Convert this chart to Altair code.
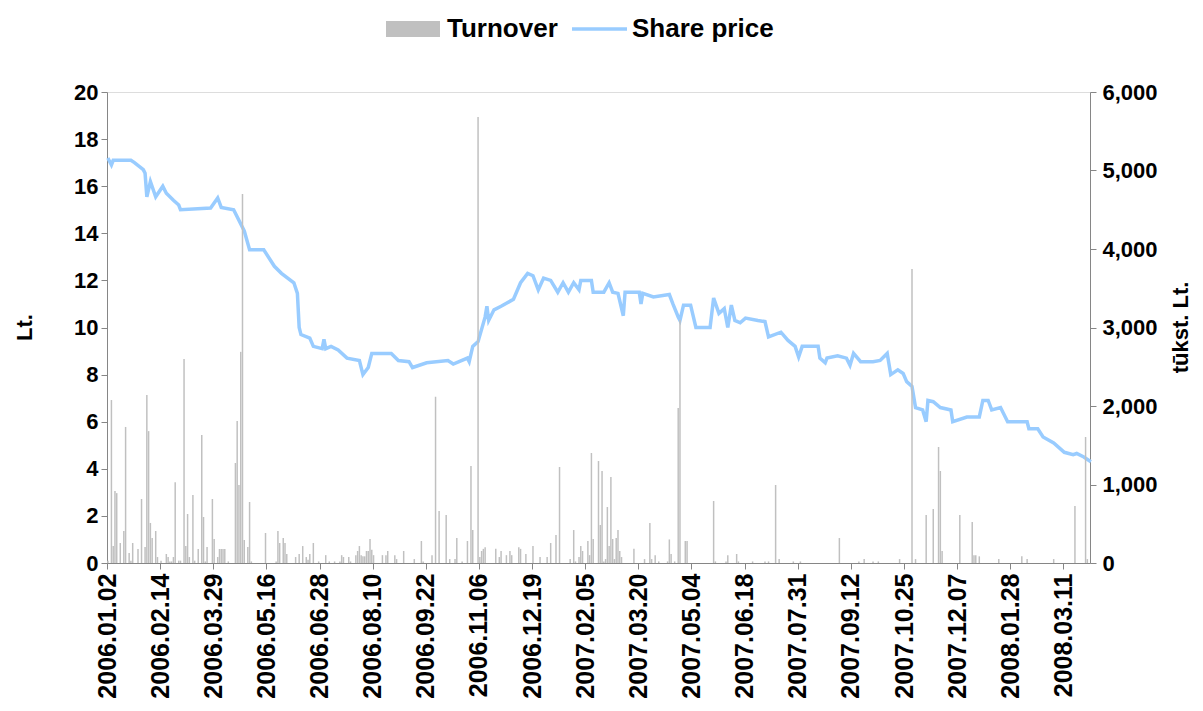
import altair as alt
import pandas as pd

# ---- data ----
# x = trading-day index (0 = 2006.01.02), one category per trading day
price_day = [0, 2, 3, 13, 15, 20, 21, 22, 24, 27, 31, 33, 37, 40, 41, 58, 62, 64, 71, 77,
             80, 88, 94, 98, 105, 107, 108, 109, 114, 116, 121, 122, 123, 126, 130, 135,
             142, 144, 147, 149, 160, 164, 170, 172, 180, 192, 195, 203, 204, 206, 209,
             213, 214, 215, 218, 222, 229, 233, 237, 240, 243, 246, 250, 254, 257, 260,
             263, 266, 267, 273, 274, 280, 283, 285, 288, 291, 292, 300, 301, 302, 308,
             317, 319, 322, 323, 325, 329, 332, 340, 342, 345, 348, 350, 352, 354, 357,
             360, 367, 371, 373, 380, 384, 388, 390, 392, 401, 402, 405, 406, 412, 417,
             419, 421, 425, 432, 436, 440, 442, 446, 449, 451, 454, 456, 460, 462, 463,
             466, 470, 476, 477, 485, 492, 494, 497, 499, 504, 508, 519, 520, 525, 528,
             534, 540, 545, 547, 551, 555]
price_lt = [17.2, 16.9, 17.1, 17.1, 17.0, 16.7, 16.55, 15.55, 16.2, 15.55, 16.0, 15.7, 15.4,
            15.2, 15.0, 15.07, 15.5, 15.1, 15.0, 14.1, 13.3, 13.3, 12.6, 12.3, 11.9, 11.45,
            10.0, 9.7, 9.55, 9.2, 9.1, 9.5, 9.1, 9.2, 9.05, 8.7, 8.6, 8.0, 8.3, 8.9, 8.9, 8.6,
            8.55, 8.3, 8.5, 8.6, 8.45, 8.7, 8.55, 9.2, 9.4, 10.45, 10.9, 10.3, 10.75, 10.9,
            11.2, 11.9, 12.3, 12.2, 11.6, 12.1, 12.0, 11.5, 11.9, 11.5, 11.9, 11.6, 12.0,
            12.0, 11.5, 11.5, 11.9, 11.5, 11.45, 10.5, 11.5, 11.5, 11.0, 11.45, 11.3, 11.4,
            11.0, 10.45, 10.3, 10.95, 10.95, 10.0, 10.0, 11.25, 10.6, 10.8, 10.0, 10.95,
            10.3, 10.2, 10.4, 10.3, 10.25, 9.6, 9.8, 9.45, 9.2, 8.75, 9.2, 9.2, 8.7, 8.5,
            8.7, 8.8, 8.7, 8.4, 8.9, 8.55, 8.55, 8.6, 8.9, 8.0, 8.2, 8.05, 7.7, 7.5, 6.6,
            6.5, 6.0, 6.9, 6.85, 6.6, 6.5, 6.0, 6.2, 6.2, 6.9, 6.9, 6.5, 6.6, 6.0, 6.0, 5.7,
            5.7, 5.35, 5.1, 4.7, 4.6, 4.65, 4.5, 4.3]

turnover_day = [0, 2, 3, 4, 5, 7, 9, 10, 12, 13, 14, 17, 19, 21, 22, 23, 24, 25, 27, 28,
                30, 33, 34, 35, 36, 37, 38, 40, 41, 43, 44, 45, 46, 48, 49, 51, 53, 54, 55,
                56, 59, 60, 62, 63, 64, 65, 66, 68, 72, 73, 74, 75, 76, 77, 79, 80, 81, 89,
                95, 96, 97, 99, 100, 101, 106, 108, 110, 112, 113, 114, 116, 119, 123, 125,
                128, 131, 132, 133, 136, 137, 140, 141, 142, 143, 144, 145, 146, 147, 148,
                149, 150, 155, 157, 158, 162, 163, 167, 173, 177, 178, 183, 185, 187, 191,
                193, 196, 197, 200, 203, 205, 206, 209, 210, 211, 212, 213, 219, 221, 222,
                225, 227, 228, 232, 233, 236, 240, 244, 248, 250, 253, 255, 261, 263, 264,
                266, 267, 268, 271, 272, 273, 274, 277, 278, 279, 280, 281, 282, 283, 284,
                285, 286, 287, 288, 289, 290, 297, 303, 306, 307, 309, 311, 316, 317, 318,
                320, 322, 323, 326, 327, 342, 343, 349, 350, 355, 356, 364, 371, 373, 377,
                379, 387, 391, 413, 424, 427, 432, 435, 447, 454, 456, 462, 466, 469, 470,
                471, 481, 488, 489, 490, 492, 503, 516, 519, 534, 546, 552, 553]
turnover_val = [30, 2076, 216, 917, 890, 255, 408, 1733, 127, 30, 255, 178, 815, 204, 2140,
                1680, 510, 318, 408, 76, 30, 115, 76, 20, 20, 76, 1030, 30, 30, 2600, 216,
                624, 76, 866, 30, 178, 1630, 586, 20, 204, 815, 306, 76, 178, 178, 178, 178,
                20, 1274, 1809, 994, 2690, 4700, 293, 204, 777, 20, 382, 20, 408, 255, 318,
                255, 115, 76, 115, 216, 76, 40, 115, 255, 20, 100, 20, 20, 20, 100, 76, 76,
                20, 100, 153, 216, 100, 85, 85, 153, 153, 306, 170, 100, 100, 100, 153, 100,
                50, 153, 50, 280, 20, 100, 2118, 662, 611, 50, 50, 318, 20, 280, 1236, 420,
                5682, 76, 153, 180, 200, 180, 76, 153, 100, 153, 100, 200, 180, 115, 216, 76,
                76, 255, 357, 1223, 50, 420, 20, 76, 216, 153, 280, 100, 1401, 306, 1299,
                484, 1172, 20, 50, 713, 216, 1096, 306, 50, 318, 420, 153, 76, 180, 50, 510,
                50, 100, 20, 20, 300, 115, 20, 1975, 3096, 280, 280, 790, 20, 20, 100, 115,
                20, 20, 20, 20, 994, 50, 20, 20, 318, 20, 50, 20, 20, 50, 3745, 50, 611, 688,
                1478, 1172, 153, 611, 522, 100, 100, 85, 50, 85, 50, 50, 726, 1605, 50]

tick_labels = ["2006.01.02", "2006.02.14", "2006.03.29", "2006.05.16", "2006.06.28",
               "2006.08.10", "2006.09.22", "2006.11.06", "2006.12.19", "2007.02.05",
               "2007.03.20", "2007.05.04", "2007.06.18", "2007.07.31", "2007.09.12",
               "2007.10.25", "2007.12.07", "2008.01.28", "2008.03.11"]
LABEL_STEP = 30
N_DAYS = 555

legend_labels = ["Turnover", "Share price"]

FONT = "Liberation Sans"
BAR_COLOR = "#c0c0c0"
LINE_COLOR = "#99ccff"
AXIS_COLOR = "#868686"

price_df = pd.DataFrame({"day": price_day, "price": price_lt})
turn_df = pd.DataFrame({"day": turnover_day, "turnover": turnover_val})

label_expr = "[" + ",".join(f"'{s}'" for s in tick_labels) + f"][round(datum.value / {LABEL_STEP})]"

xscale = alt.Scale(domain=[0, N_DAYS], nice=False, zero=False)
xaxis = alt.Axis(
    values=[k * LABEL_STEP for k in range(len(tick_labels))],
    labelExpr=label_expr, labelAngle=270, labelFont=FONT, labelFontSize=25,
    labelFontWeight="bold", labelColor="black", labelPadding=4, tickSize=6,
    domainColor=AXIS_COLOR, tickColor=AXIS_COLOR, grid=False, title=None,
    labelOverlap=False, labelFlush=False,
)

line = alt.Chart(price_df).transform_calculate(
    xc="datum.day + 0.5"
).mark_line(color=LINE_COLOR, strokeWidth=3.5).encode(
    x=alt.X("xc:Q", scale=xscale, axis=xaxis),
    y=alt.Y("price:Q", scale=alt.Scale(domain=[0, 20], nice=False),
            axis=alt.Axis(orient="left", values=list(range(0, 21, 2)), title="Lt.",
                          titleAngle=270, titleX=-76, titleY=235, titleAlign="center",
                          titleBaseline="alphabetic", titleFont=FONT, titleFontSize=22,
                          titleFontWeight="bold", titleColor="black",
                          labelFont=FONT, labelFontSize=22, labelFontWeight="bold",
                          labelColor="black", labelPadding=3, tickSize=6,
                          domainColor=AXIS_COLOR, tickColor=AXIS_COLOR, grid=False)),
)

bars = alt.Chart(turn_df).transform_calculate(
    x0="datum.day + 0.08", x1="datum.day + 0.92"
).mark_bar(color=BAR_COLOR).encode(
    x=alt.X("x0:Q", scale=xscale, axis=xaxis),
    x2="x1:Q",
    y=alt.Y("turnover:Q", scale=alt.Scale(domain=[0, 6000], nice=False),
            axis=alt.Axis(orient="right", values=list(range(0, 6001, 1000)), format=",.0f",
                          title="tūkst. Lt.", titleAngle=270, titleX=97, titleY=235,
                          titleAlign="center", titleBaseline="alphabetic", titleFont=FONT,
                          titleFontSize=22, titleFontWeight="bold", titleColor="black",
                          labelFont=FONT, labelFontSize=22, labelFontWeight="bold",
                          labelColor="black", labelPadding=6, tickSize=6,
                          domainColor=AXIS_COLOR, tickColor=AXIS_COLOR, grid=False)),
    y2=alt.datum(0),
)

# ---- legend (top centre) ----
leg_df = pd.DataFrame({"label": legend_labels})
leg_swatch = alt.Chart(leg_df).transform_filter(
    alt.datum.label == legend_labels[0]
).mark_rect(color=BAR_COLOR).encode(
    x=alt.value(279), x2=alt.value(333), y=alt.value(-71), y2=alt.value(-55)
)
leg_line = alt.Chart(leg_df).transform_filter(
    alt.datum.label == legend_labels[1]
).mark_rule(color=LINE_COLOR, strokeWidth=3.5).encode(
    x=alt.value(465), x2=alt.value(520), y=alt.value(-63)
)
leg_text1 = alt.Chart(leg_df).transform_filter(
    alt.datum.label == legend_labels[0]
).mark_text(align="left", baseline="alphabetic", font=FONT, fontSize=26,
            fontWeight="bold", color="black").encode(
    x=alt.value(340), y=alt.value(-55), text="label:N"
)
leg_text2 = alt.Chart(leg_df).transform_filter(
    alt.datum.label == legend_labels[1]
).mark_text(align="left", baseline="alphabetic", font=FONT, fontSize=26,
            fontWeight="bold", color="black").encode(
    x=alt.value(525), y=alt.value(-55), text="label:N"
)

chart = alt.layer(line, bars, leg_swatch, leg_line, leg_text1, leg_text2).resolve_scale(
    y="independent"
).properties(
    width=983, height=471,
    autosize=alt.AutoSizeParams(type="none"),
    padding={"left": 99, "top": 84, "right": 105, "bottom": 140},
).configure_view(stroke=None).configure(background="white")

chart.save("out.html", embed_options={"renderer": "svg", "actions": False})
